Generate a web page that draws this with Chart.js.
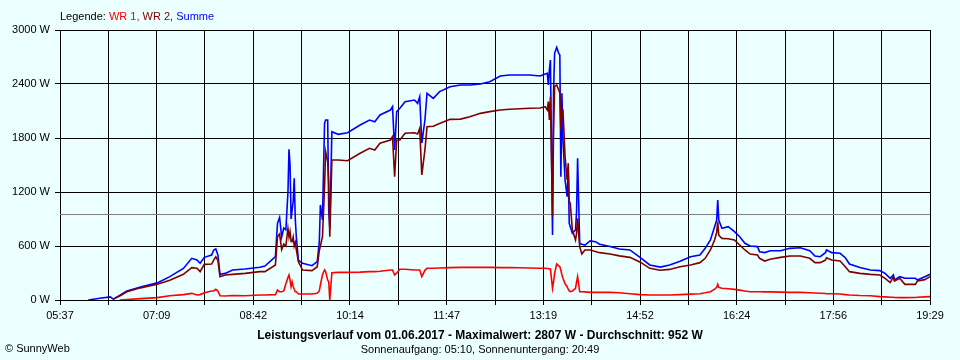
<!DOCTYPE html>
<html>
<head>
<meta charset="utf-8">
<script src="https://cdn.jsdelivr.net/npm/chart.js@4.4.1/dist/chart.umd.min.js"></script>
<style>
    html, body { margin: 0; padding: 0; background: #ecffff; }
    #wrap { position: relative; width: 960px; height: 360px; overflow: hidden; font-family: "Liberation Sans", Arial, sans-serif; color: #000; }
    #myChart { position: absolute; left: 0; top: 0; }
    .txt { position: absolute; white-space: nowrap; font-size: 11px; line-height: 13px; }
    #legend { left: 60px; top: 10px; }
    #title { left: 0; width: 960px; text-align: center; top: 329px; font-weight: bold; font-size: 12px; }
    #sun { left: 0; width: 960px; text-align: center; top: 343px; }
    #copy { left: 5px; top: 342px; }
</style>
</head>
<body>
<div id="wrap">
    <canvas id="myChart" width="960" height="360"></canvas>
    <div class="txt" id="legend">Legende: <span style="color:#ff0000">WR 1,</span> <span style="color:#800000">WR 2,</span> <span style="color:#0000ff">Summe</span></div>
    <div class="txt" id="title">Leistungsverlauf vom 01.06.2017 - Maximalwert: 2807 W - Durchschnitt: 952 W</div>
    <div class="txt" id="sun">Sonnenaufgang: 05:10, Sonnenuntergang: 20:49</div>
    <div class="txt" id="copy">© SunnyWeb</div>
</div>
<script>
// x axis labels (every second grid line)
const tickLabels = ["05:37", "07:09", "08:42", "10:14", "11:47", "13:19", "14:52", "16:24", "17:56", "19:29"];
const yTicks = [0, 600, 1200, 1800, 2400, 3000];
const average = 952; // W

// sample times
const times = [
    "06:04", "06:15", "06:25", "06:28", "06:34", "06:41", "06:54", "07:10", "07:22", "07:35",
    "07:43", "07:48", "07:51", "07:55", "08:02", "08:04", "08:06", "08:08", "08:10", "08:15",
    "08:22", "08:34", "08:48", "08:53", "09:03", "09:05", "09:07", "09:09", "09:11", "09:13",
    "09:15", "09:16", "09:17", "09:18", "09:19", "09:20", "09:21", "09:22", "09:23", "09:25",
    "09:29", "09:38", "09:43", "09:45", "09:46", "09:48", "09:50", "09:51", "09:53", "09:54",
    "09:55", "09:57", "10:03", "10:12", "10:24", "10:33", "10:38", "10:43", "10:53", "10:55",
    "10:57", "10:59", "11:02", "11:07", "11:16", "11:19", "11:21", "11:23", "11:26", "11:28",
    "11:34", "11:40", "11:50", "12:00", "12:09", "12:19", "12:28", "12:38", "12:47", "12:57",
    "13:06", "13:16", "13:21", "13:23", "13:24", "13:25", "13:26", "13:28", "13:29", "13:30",
    "13:32", "13:34", "13:35", "13:36", "13:37", "13:38", "13:40", "13:42", "13:43", "13:44",
    "13:45", "13:47", "13:50", "13:51", "13:52", "13:54", "13:56", "13:59", "14:04", "14:09",
    "14:13", "14:23", "14:32", "14:42", "14:52", "15:01", "15:11", "15:20", "15:30", "15:40",
    "15:49", "15:54", "15:59", "16:03", "16:05", "16:06", "16:07", "16:10", "16:16", "16:22",
    "16:27", "16:32", "16:37", "16:44", "16:46", "16:51", "16:56", "17:06", "17:15", "17:25",
    "17:34", "17:39", "17:44", "17:49", "17:50", "17:55", "18:03", "18:08", "18:12", "18:22",
    "18:32", "18:41", "18:46", "18:51", "18:54", "18:55", "19:00", "19:05", "19:15", "19:17",
    "19:24", "19:29"
];

// WR 1 (W)
const wr1 = [
    null, null, null, null, 0, 5, 15, 26, 48, 60,
    74, 55, 60, 81, 100, 100, 118, 100, 48, 44,
    50, 48, 55, 55, 60, 111, 92, 92, 100, 180,
    250, 278, 222, 150, 200, 150, 120, 92, 92, 67,
    67, 67, 74, 100, 167, 280, 333, 315, 222, 200,
    0, 303, 307, 307, 310, 315, 315, 320, 333, 333,
    278, 300, 341, 341, 333, 333, 333, 259, 330, 352,
    352, 355, 360, 363, 363, 363, 363, 360, 360, 358,
    355, 352, 352, 350, 350, 345, 344, 130, 200, 296,
    400, 380, 370, 330, 280, 241, 180, 148, 120, 100,
    92, 100, 130, 200, 259, 92, 92, 90, 85, 85,
    85, 85, 80, 70, 60, 55, 55, 55, 60, 65,
    70, 80, 92, 120, 140, 174, 140, 130, 125, 118,
    110, 100, 92, 92, 92, 90, 90, 88, 85, 85,
    80, 78, 75, 72, 70, 70, 67, 60, 55, 50,
    48, 37, 35, 30, 30, 28, 26, 26, 28, 30,
    35, 37
];

// WR 2 (W)
const wr2 = [
    null, null, null, 10, 45, 92, 135, 174, 220, 285,
    359, 352, 315, 396, 400, 444, 480, 440, 259, 278,
    285, 296, 315, 315, 389, 703, 733, 560, 620, 600,
    796, 700, 760, 650, 648, 700, 600, 640, 560, 426,
    333, 326, 370, 550, 600, 700, 1259, 1648, 1537, 1300,
    703, 1556, 1556, 1548, 1630, 1685, 1667, 1741, 1778, 1815,
    1370, 1778, 1778, 1852, 1859, 1844, 1907, 1389, 1667, 1926,
    1930, 1960, 2007, 2010, 2037, 2074, 2093, 2111, 2119, 2125,
    2130, 2133, 2148, 2111, 2204, 2000, 2259, 926, 1889, 2370,
    2389, 2333, 2300, 1889, 2111, 2111, 1593, 1333, 1519, 1100,
    1074, 778, 667, 741, 907, 593, 511, 556, 556, 540,
    526, 511, 490, 474, 420, 352, 330, 340, 370, 389,
    415, 463, 556, 667, 750, 870, 720, 685, 680, 667,
    611, 556, 511, 500, 463, 433, 452, 474, 489, 489,
    463, 415, 415, 444, 470, 444, 433, 370, 315, 296,
    285, 278, 241, 193, 259, 211, 241, 174, 174, 211,
    226, 259
];

// Summe (W)
const summe = [
    0, 20, 35, 10, 50, 100, 145, 190, 260, 350,
    463, 444, 408, 474, 500, 555, 567, 500, 285, 296,
    333, 344, 363, 378, 481, 852, 918, 700, 800, 780,
    1200, 1674, 1500, 900, 1000, 1100, 1352, 900, 700, 444,
    408, 381, 426, 650, 1056, 889, 1963, 2000, 2000, 1000,
    800, 1870, 1841, 1859, 1944, 2000, 1981, 2056, 2111, 2148,
    1667, 2093, 2130, 2204, 2222, 2185, 2259, 1744, 2000, 2296,
    2241, 2315, 2370, 2389, 2389, 2400, 2426, 2489, 2500, 2500,
    2500, 2489, 2511, 2519, 2389, 2556, 2667, 722, 2300, 2741,
    2807, 2741, 2722, 1370, 2296, 1778, 1333, 1148, 1444, 852,
    815, 741, 778, 981, 1574, 630, 620, 611, 656, 648,
    620, 595, 567, 556, 470, 389, 365, 389, 430, 481,
    500, 574, 667, 815, 889, 1111, 889, 796, 815, 759,
    703, 630, 600, 593, 537, 527, 548, 548, 574, 581,
    548, 489, 481, 526, 556, 526, 519, 470, 400, 360,
    333, 326, 296, 241, 278, 222, 259, 241, 241, 222,
    259, 285
];

const startMin = 5 * 60 + 37;
const endMin = 19 * 60 + 29;

function toMinutes(t) {
    const parts = t.split(":");
    return parseInt(parts[0]) * 60 + parseInt(parts[1]);
}

function makePoints(values) {
    return times.map((t, i) => ({ x: toMinutes(t), y: values[i] }));
}

const avgLine = {
    id: 'avgLine',
    beforeDatasetsDraw(chart) {
        const ctx = chart.ctx;
        const area = chart.chartArea;
        const y = Math.round(chart.scales.y.getPixelForValue(average)) + 0.5;
        ctx.save();
        ctx.strokeStyle = '#808080';
        ctx.lineWidth = 1;
        ctx.beginPath();
        ctx.moveTo(area.left, y);
        ctx.lineTo(area.right, y);
        ctx.stroke();
        ctx.restore();
    }
};

const font = { family: '"Liberation Sans", Arial, sans-serif', size: 11 };

const ctx = document.getElementById('myChart').getContext('2d');
const chart = new Chart(ctx, {
    type: 'line',
    data: {
        datasets: [
            { label: 'WR 1', data: makePoints(wr1), borderColor: '#ff0000', borderWidth: 1.6 },
            { label: 'WR 2', data: makePoints(wr2), borderColor: '#800000', borderWidth: 1.6 },
            { label: 'Summe', data: makePoints(summe), borderColor: '#0000ff', borderWidth: 1.6 }
        ]
    },
    options: {
        responsive: false,
        animation: false,
        parsing: false,
        elements: { point: { radius: 0 }, line: { tension: 0 } },
        layout: { padding: { top: 30, right: 30, left: 0, bottom: 0 } },
        plugins: { legend: { display: false }, tooltip: { enabled: false } },
        scales: {
            x: {
                type: 'linear',
                min: startMin,
                max: endMin,
                afterBuildTicks: (axis) => {
                    axis.ticks = [];
                    for (let k = 0; k <= 18; k++) {
                        axis.ticks.push({ value: startMin + k * (endMin - startMin) / 18 });
                    }
                },
                afterFit: (scale) => { scale.height = 60; },
                grid: { color: '#000', lineWidth: 1, tickLength: 5 },
                border: { color: '#000', width: 1 },
                ticks: {
                    autoSkip: false,
                    maxRotation: 0,
                    padding: 4,
                    color: '#000',
                    font: font,
                    callback: (value, index) => index % 2 === 0 ? tickLabels[index / 2] : ''
                }
            },
            y: {
                min: 0,
                max: 3000,
                afterBuildTicks: (axis) => {
                    axis.ticks = yTicks.map(v => ({ value: v }));
                },
                afterFit: (scale) => { scale.width = 60; },
                grid: { color: '#000', lineWidth: 1, tickLength: 5 },
                border: { color: '#000', width: 1 },
                ticks: {
                    padding: 5,
                    color: '#000',
                    font: font,
                    callback: (value) => value + ' W'
                }
            }
        }
    },
    plugins: [avgLine]
});
</script>
</body>
</html>
